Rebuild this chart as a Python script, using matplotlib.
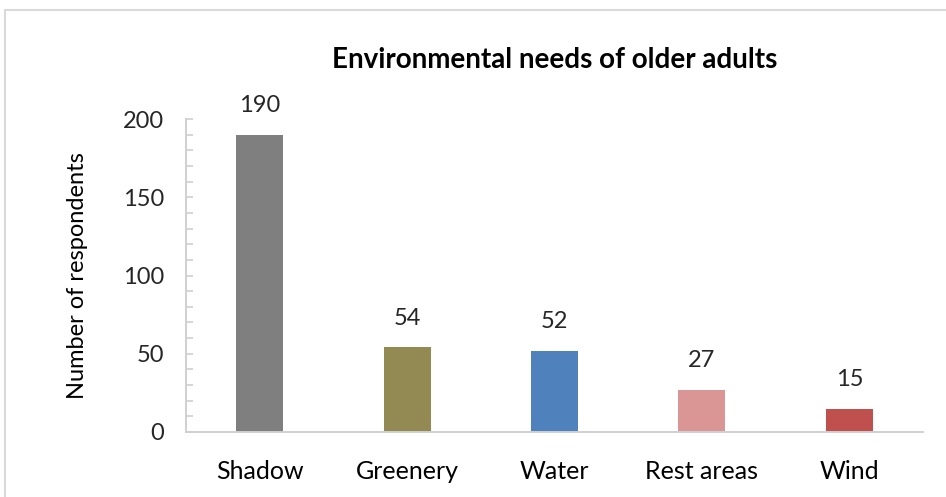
import matplotlib.pyplot as plt
from matplotlib.patches import Rectangle
from matplotlib.ticker import MultipleLocator

plt.rcParams['font.family'] = ['Lato', 'DejaVu Sans']

# survey counts
categories = ["Shadow", "Greenery", "Water", "Rest areas", "Wind"]
respondents = [190, 54, 52, 27, 15]
bar_colors = ["#7f7f7f", "#938953", "#4f81bd", "#d99694", "#c0504d"]

fig = plt.figure(figsize=(9.46, 4.97), dpi=100)

# chart-area frame, running off the right and bottom edges
fig.patches.append(Rectangle((5 / 946, -0.1), 1.2, 1 - 10 / 497 + 0.1,
                             transform=fig.transFigure, fill=False,
                             edgecolor="#d9d9d9", linewidth=1.5))

ax = fig.add_axes([186 / 946, 1 - 432 / 497, (923 - 186) / 946, (432 - 119) / 497])
x = range(len(categories))
bars = ax.bar(x, respondents, width=0.32, color=bar_colors)

for b, v in zip(bars, respondents):
    ax.text(b.get_x() + b.get_width() / 2, v + 12, str(v),
            ha="center", va="bottom", fontsize=17, color="#262626")

ax.set_xlim(-0.5, len(categories) - 0.5)
ax.set_ylim(0, 200)
ax.set_xticks(list(x))
ax.set_xticklabels(categories)
ax.yaxis.set_major_locator(MultipleLocator(50))
ax.yaxis.set_minor_locator(MultipleLocator(10))

for s in ["top", "right"]:
    ax.spines[s].set_visible(False)
for s in ["left", "bottom"]:
    ax.spines[s].set_color("#d0d0d0")
    ax.spines[s].set_linewidth(1.4)

ax.tick_params(axis="y", which="both", direction="in", length=5, width=1.2,
               color="#d0d0d0", labelsize=17, labelcolor="#262626", pad=16)
ax.tick_params(axis="x", length=0, labelsize=18, labelcolor="#000000", pad=20)

ax.set_ylabel("Number of respondents", fontsize=17, color="#000000", labelpad=25)
fig.text(555 / 946, 1 - 60 / 497, "Environmental needs of older adults",
         ha="center", va="center", fontsize=20, fontweight="bold")

fig.savefig("out.png", dpi=100, facecolor="white")
